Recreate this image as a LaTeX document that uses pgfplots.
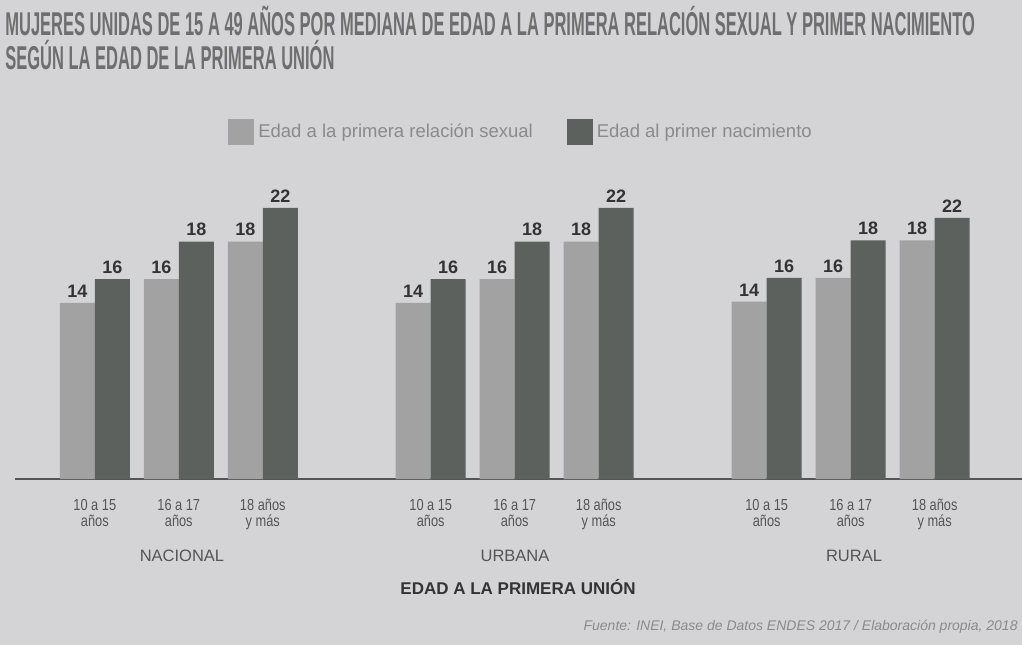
\documentclass[border=0pt]{standalone}
\usepackage{fontspec}
\setmainfont{Liberation Sans}
\newfontfamily\titlefont{Liberation Sans}[FakeStretch=0.5]
\newfontfamily\narrowfont{Liberation Sans}[FakeStretch=0.8]
\usepackage{pgfplots}
\usepackage{pgfplotstable}
\pgfplotsset{compat=1.18}

\definecolor{bg}{HTML}{D4D4D6}
\definecolor{lightbar}{HTML}{A2A2A3}
\definecolor{darkbar}{HTML}{5C615E}
\definecolor{titlegray}{HTML}{6E6E6E}
\definecolor{leggray}{HTML}{8A8A8C}
\definecolor{tickgray}{HTML}{555555}
\definecolor{labgray}{HTML}{333333}
\definecolor{axisgray}{HTML}{555555}

% bar heights, labels as printed
\pgfplotstableread{
x y lab
0 14.1 14
1 16.0 16
2 19.0 18
4 14.1 14
5 16.0 16
6 19.0 18
8 14.2 14
9 16.1 16
10 19.1 18
}\primerarel

\pgfplotstableread{
x y lab
0 16.0 16
1 19.0 18
2 21.7 22
4 16.0 16
5 19.0 18
6 21.7 22
8 16.1 16
9 19.1 18
10 20.9 22
}\primernac

\begin{document}
\begin{tikzpicture}
\path[use as bounding box] (0,0) rectangle (511pt,322pt);
\clip (0,0) rectangle (511pt,322pt);
\fill[bg] (-2pt,-2pt) rectangle (513pt,324pt);

\begin{axis}[
    at={(7.5pt,82.5pt)}, anchor=south west,
    scale only axis, width=503.5pt, height=162.5pt,
    xmin=-0.95, xmax=11.04, ymin=0, ymax=26,
    ybar=0pt, bar width=17.5pt,
    axis x line*=bottom, axis y line=none,
    x axis line style={draw=axisgray, line width=0.8pt, -},
    xtick={0,1,2,4,5,6,8,9,10},
    xticklabels={{10 a 15\\años},{16 a 17\\años},{18 años\\y más},
                 {10 a 15\\años},{16 a 17\\años},{18 años\\y más},
                 {10 a 15\\años},{16 a 17\\años},{18 años\\y más}},
    major tick length=0pt,
    xticklabel style={align=center, font=\narrowfont\fontsize{8}{8}\selectfont,
        text=tickgray, inner sep=0pt, yshift=-10pt},
    ytick=\empty,
    nodes near coords, point meta=explicit symbolic,
    every node near coord/.append style={font=\bfseries\fontsize{9}{9}\selectfont,
        text=labgray, inner sep=0pt, yshift=2.5pt},
    legend columns=2,
    legend style={at={(0.5035,1.0677)}, anchor=center, draw=none, fill=none,
        font=\fontsize{9.25}{9.25}\selectfont, text=leggray, inner sep=0pt,
        /tikz/every even column/.append style={column sep=15pt}},
    legend image code/.code={\fill[#1] (0pt,-6.5pt) rectangle (13pt,6.5pt);},
    clip=false,
]
    \addplot[fill=lightbar, draw=none] table[x=x, y=y, meta=lab] {\primerarel};
    \addlegendentry{Edad a la primera relación sexual}
    \addplot[fill=darkbar, draw=none] table[x=x, y=y, meta=lab] {\primernac};
    \addlegendentry{Edad al primer nacimiento}
\end{axis}

% title
\node[anchor=base west, inner sep=0pt, text=titlegray,
      font=\titlefont\bfseries\fontsize{16.5}{16.5}\selectfont] at (2.5pt,304pt)
      {MUJERES UNIDAS DE 15 A 49 AÑOS POR MEDIANA DE EDAD A LA PRIMERA RELACIÓN SEXUAL Y PRIMER NACIMIENTO};
\node[anchor=base west, inner sep=0pt, text=titlegray,
      font=\titlefont\bfseries\fontsize{16.5}{16.5}\selectfont] at (2.5pt,287pt)
      {SEGÚN LA EDAD DE LA PRIMERA UNIÓN};

% group names
\node[font=\fontsize{8.25}{8.25}\selectfont, text=tickgray] at (91pt,44pt) {NACIONAL};
\node[font=\fontsize{8.25}{8.25}\selectfont, text=tickgray] at (257.5pt,44pt) {URBANA};
\node[font=\fontsize{8.25}{8.25}\selectfont, text=tickgray] at (427pt,44pt) {RURAL};

\node[font=\bfseries\fontsize{8.5}{8.5}\selectfont, text=labgray] at (259pt,28.5pt)
      {EDAD A LA PRIMERA UNIÓN};

\node[anchor=base east, inner sep=0pt, text=leggray,
      font=\itshape\fontsize{7}{7}\selectfont] at (509pt,7pt)
      {Fuente: INEI, Base de Datos ENDES 2017 / Elaboración propia, 2018};
\end{tikzpicture}
\end{document}
